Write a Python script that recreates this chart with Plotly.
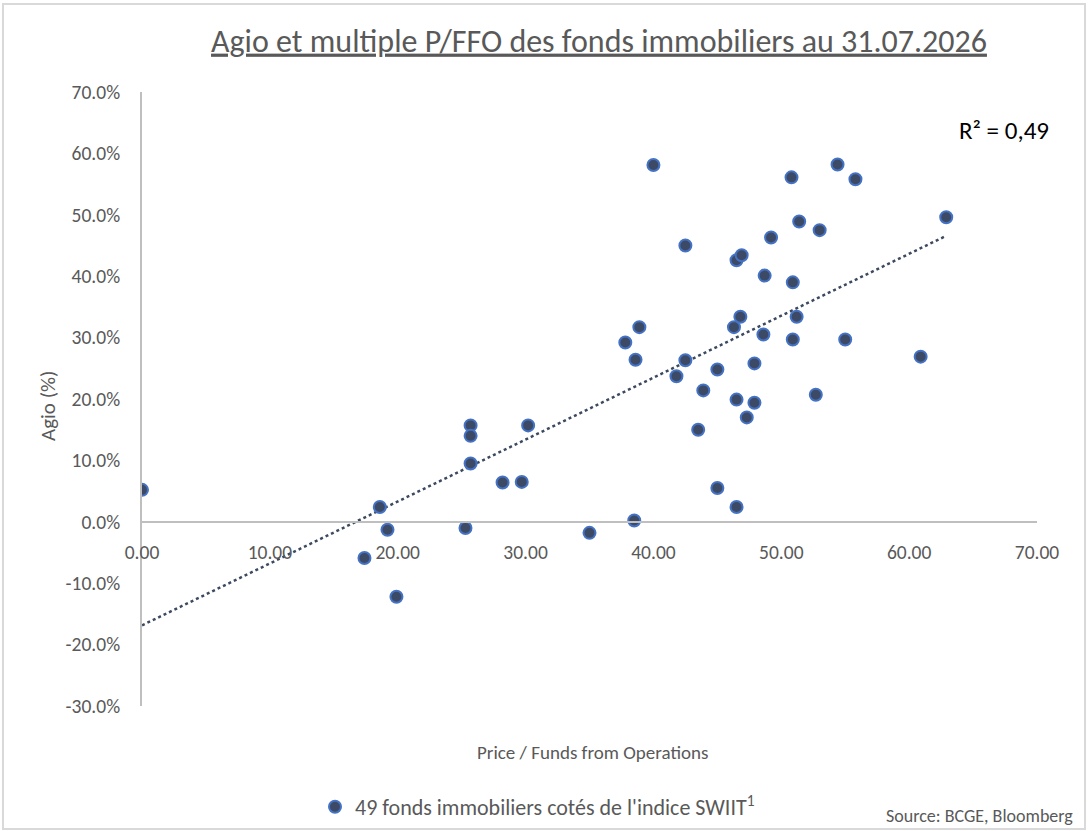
import numpy as np
import plotly.graph_objects as go

# P/FFO multiple and agio (in %) of the 49 listed real estate funds
pffo = [0.0, 17.4, 18.6, 19.2, 19.9, 25.3, 25.7, 25.7, 25.7, 28.2,
        29.7, 30.2, 35.0, 38.5, 37.8, 38.6, 38.9, 40.0, 41.8, 42.5,
        42.5, 43.5, 43.9, 45.0, 45.0, 46.3, 46.5, 46.5, 46.5, 46.8,
        46.9, 47.3, 47.9, 47.9, 48.6, 48.7, 49.2, 50.8, 50.9, 50.9,
        51.2, 51.4, 52.7, 53.0, 54.4, 55.0, 55.8, 60.9, 62.9]
agio = [5.2, -5.9, 2.4, -1.3, -12.2, -1.0, 15.7, 14.0, 9.5, 6.4,
        6.5, 15.7, -1.8, 0.2, 29.2, 26.4, 31.7, 58.1, 23.7, 45.0,
        26.3, 15.0, 21.4, 5.5, 24.8, 31.7, 42.6, 19.9, 2.4, 33.4,
        43.4, 17.0, 19.4, 25.8, 30.5, 40.1, 46.3, 56.1, 39.0, 29.7,
        33.4, 48.9, 20.7, 47.5, 58.2, 29.7, 55.8, 26.9, 49.6]

x_ticks = [0, 10, 20, 30, 40, 50, 60, 70]
y_ticks = [-0.3, -0.2, -0.1, 0.0, 0.1, 0.2, 0.3, 0.4, 0.5, 0.6, 0.7]
# excel style labels (plain hyphen for negatives)
y_labels = [f"{v:.1%}" for v in y_ticks]

title = "Agio et multiple P/FFO des fonds immobiliers au 31.07.2026"
legend_name = "49 fonds immobiliers cotés de l'indice SWIIT<sup>1</sup>"

FONT = "Calibri, Lato, sans-serif"
GREY = "#595959"

# the screenshot comes out slightly squeezed vertically, so the page is
# laid out a bit taller than the window
SY = 840 / 831
W, H = 1088, 840
L, R = 142, 1037
T, B = 91 * SY, 705 * SY   # plot area in pixels


def px(p):
    return (p - L) / (R - L)


def py(p):
    return (B - p * SY) / (B - T)


x = np.array(pffo)
y = np.array(agio) / 100

# linear trend line (least squares)
slope, intercept = np.polyfit(x, y, 1)
x_line = np.array([x.min(), x.max()])
y_line = intercept + slope * x_line

fig = go.Figure()
fig.add_trace(go.Scatter(
    x=x_line, y=y_line, mode="lines", showlegend=False, hoverinfo="skip",
    line=dict(color="#3C4A60", width=2.5, dash="dot")))
fig.add_trace(go.Scatter(
    x=x, y=y, mode="markers", name=legend_name,
    marker=dict(size=12, color="#3D4A66", line=dict(color="#4472C4", width=2))))

fig.update_layout(
    width=W, height=H,
    margin=dict(l=L, r=W - R, t=T, b=H - B),
    paper_bgcolor="white", plot_bgcolor="white",
    font=dict(family=FONT, color=GREY, size=19.5),
    title=dict(text="<u>" + title + "</u>", x=px(599), xref="paper",
               xanchor="center", y=1 - 40 * SY / H, yanchor="middle",
               font=dict(size=32, color=GREY)),
    showlegend=True,
    legend=dict(orientation="h", x=px(315), xanchor="left",
                y=py(806), yanchor="middle",
                font=dict(size=22, color=GREY), bgcolor="rgba(0,0,0,0)"),
    xaxis=dict(range=[0, 70], tickvals=x_ticks, tickformat=".2f",
               showgrid=False, zeroline=False, showline=True,
               linecolor="#BFBFBF", linewidth=2,
               anchor="free", position=0.3,
               ticks="outside", ticklen=13, tickcolor="rgba(0,0,0,0)"),
    yaxis=dict(range=[-0.3, 0.7], tickvals=y_ticks, ticktext=y_labels,
               showgrid=False, zeroline=False, showline=True,
               linecolor="#BFBFBF", linewidth=2,
               ticks="outside", ticklen=16, tickcolor="rgba(0,0,0,0)"),
)

fig.add_annotation(text="Price / Funds from Operations", xref="paper", yref="paper",
                   x=px(592), y=py(751), showarrow=False,
                   font=dict(size=19, color=GREY), yanchor="middle")
fig.add_annotation(text="Agio (%)", xref="paper", yref="paper",
                   x=px(48), y=py(405), textangle=-90,
                   showarrow=False, font=dict(size=21, color=GREY),
                   xanchor="center", yanchor="middle")
fig.add_annotation(text="R² = 0,49", xref="paper", yref="paper",
                   x=px(1004), y=py(129), showarrow=False, xanchor="center",
                   font=dict(size=25, color="black"), yanchor="middle")
fig.add_annotation(text="Source: BCGE, Bloomberg", xref="paper", yref="paper",
                   x=px(1075), y=py(815), showarrow=False,
                   xanchor="right", yanchor="middle",
                   font=dict(size=18, color=GREY))

# light frame around the chart
fig.add_shape(type="rect", xref="paper", yref="paper",
              x0=px(3), x1=px(1085), y0=py(828), y1=py(3),
              line=dict(color="#D9D9D9", width=2), fillcolor="rgba(0,0,0,0)",
              layer="below")

fig.write_html("out.html", config={"displayModeBar": False},
               post_script="document.body.style.margin = '0';")
